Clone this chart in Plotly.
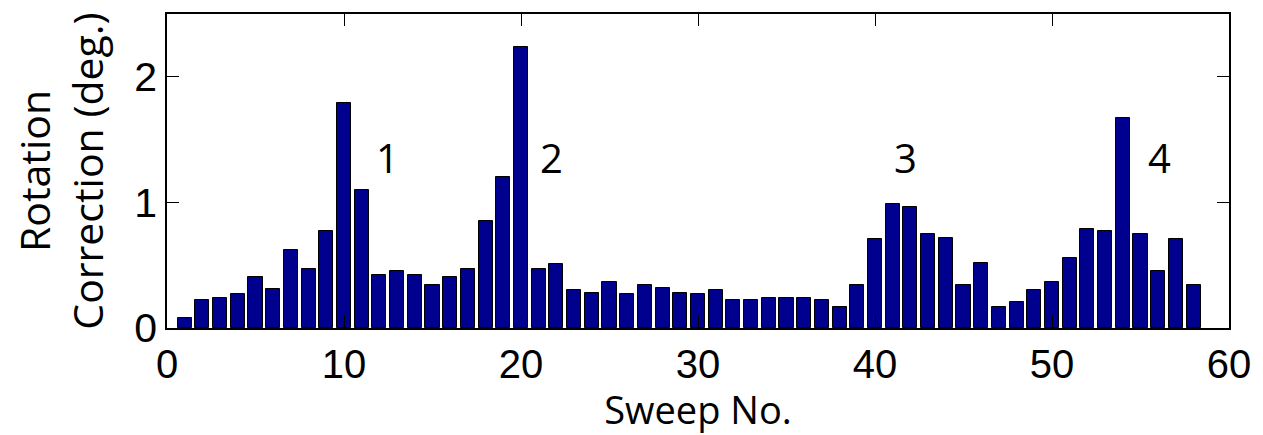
import plotly.graph_objects as go

sweeps = list(range(1, 59))
corrections = [0.08, 0.22, 0.24, 0.27, 0.41, 0.31, 0.62, 0.47, 0.77, 1.79,
               1.10, 0.42, 0.45, 0.42, 0.34, 0.41, 0.47, 0.85, 1.20, 2.24,
               0.47, 0.51, 0.305, 0.28, 0.37, 0.27, 0.345, 0.32, 0.28, 0.27,
               0.305, 0.22, 0.22, 0.24, 0.24, 0.24, 0.22, 0.17, 0.345, 0.71,
               0.99, 0.96, 0.75, 0.72, 0.345, 0.52, 0.17, 0.21, 0.305, 0.37,
               0.56, 0.79, 0.77, 1.67, 0.75, 0.45, 0.71, 0.345]
peak_labels = ["1", "2", "3", "4"]
peak_x = [12.45, 21.75, 41.7, 56.1]
peak_y = [1.36, 1.36, 1.36, 1.36]
x_ticks = [0, 10, 20, 30, 40, 50, 60]
y_ticks = [0, 1, 2]

fig = go.Figure()
fig.add_trace(go.Bar(x=sweeps, y=corrections, width=0.8,
                     marker=dict(color="#00008F", line=dict(color="black", width=1))))

for t, xx, yy in zip(peak_labels, peak_x, peak_y):
    fig.add_annotation(x=xx, y=yy, text=t, showarrow=False,
                       font=dict(family="Open Sans, sans-serif", size=40, color="black"))

fig.update_layout(
    width=1263, height=435,
    margin=dict(l=167, r=31, t=13, b=107),
    plot_bgcolor="white", paper_bgcolor="white",
    showlegend=False,
    bargap=0,
)
fig.update_xaxes(range=[0, 60], tickvals=x_ticks, ticks="inside", ticklen=12,
                 tickcolor="black", showline=True, linecolor="black", linewidth=1.5,
                 mirror="ticks", showgrid=False, zeroline=False,
                 tickfont=dict(family="Liberation Sans, Arial", size=40, color="black"),
                 title=dict(text="Sweep No.", standoff=10,
                            font=dict(family="Open Sans, sans-serif", size=38, color="black")))
fig.update_yaxes(range=[0, 2.5], tickvals=y_ticks, ticks="inside", ticklen=12,
                 tickcolor="black", showline=True, linecolor="black", linewidth=1.5,
                 mirror="ticks", showgrid=False, zeroline=False,
                 tickfont=dict(family="Liberation Sans, Arial", size=41, color="black"),
                 title=dict(text="Rotation<br>Correction (deg.)", standoff=18,
                            font=dict(family="Open Sans, sans-serif", size=41, color="black")))

fig.write_html("out.html")
